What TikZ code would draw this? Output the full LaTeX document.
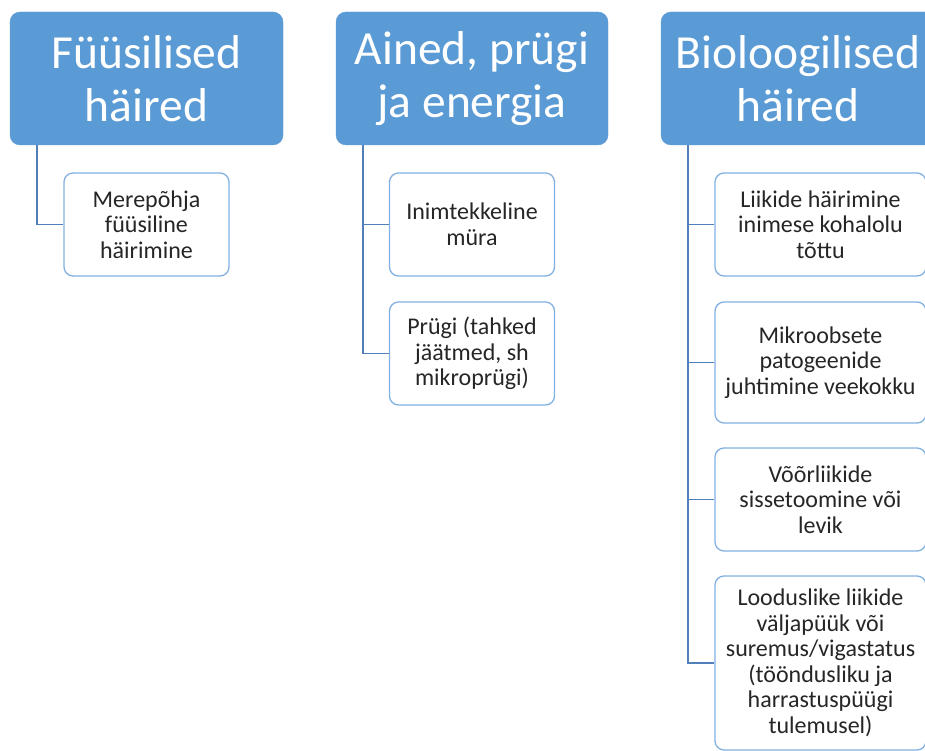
\documentclass[tikz,border=0pt]{standalone}
\usepackage{fontspec}
\setmainfont{Carlito}
\definecolor{hdrblue}{RGB}{91,155,213}
\definecolor{boxline}{RGB}{130,176,226}
\definecolor{conn}{RGB}{80,128,186}
\begin{document}
\begin{tikzpicture}[x=1pt,y=-1pt,
  header/.style={draw=hdrblue, fill=hdrblue, rounded corners=10pt, minimum height=133pt,
    text=white, align=center, font=\fontsize{47.5}{53}\selectfont, inner sep=0pt},
  item/.style={draw=boxline, line width=1.3pt, fill=white, rounded corners=9pt, minimum width=165pt,
    minimum height=103pt, align=center, font=\fontsize{24}{25.5}\selectfont, text=black!85, inner sep=0pt},
  wide/.style={item, minimum width=211pt},
  link/.style={draw=conn, line width=1.5pt}]
\useasboundingbox (0,0) rectangle (925,751);
\clip (0,0) rectangle (925,751);
% headers
\node[header, minimum width=273pt] (h1) at (146.5,78.5) {Füüsilised\\häired};
\node[header, minimum width=272pt] (h2) at (472,78.5) {Ained, prügi\\ja energia};
\node[header, minimum width=274pt] (h3) at (798,78.5) {Bioloogilised\\häired};
% children
\node[item] (a1) at (146.5,224.5) {Merepõhja\\füüsiline\\häirimine};
\node[item] (b1) at (472,224.5) {Inimtekkeline\\müra};
\node[item] (b2) at (472,353.5) {Prügi (tahked\\jäätmed, sh\\mikroprügi)};
\node[wide] (c1) at (820.5,224.5) {Liikide häirimine\\inimese kohalolu\\tõttu};
\node[wide, minimum height=121pt] (c2) at (820.5,362.5) {Mikroobsete\\patogeenide\\juhtimine veekokku};
\node[wide] (c3) at (820.5,499.5) {Võõrliikide\\sissetoomine või\\levik};
\node[wide, minimum height=174pt] (c4) at (820.5,663) {Looduslike liikide\\väljapüük või\\suremus/vigastatus\\(tööndusliku ja\\harrastuspüügi\\tulemusel)};
% connectors
\path (h1.south west) ++(27,0) coordinate (t1);
\path (h2.south west) ++(27,0) coordinate (t2);
\path (h3.south west) ++(27,0) coordinate (t3);
\draw[link] (t1) |- (a1.west);
\draw[link] (t2) |- (b1.west);
\draw[link] (t2) |- (b2.west);
\draw[link] (t3) |- (c1.west);
\draw[link] (t3) |- (c2.west);
\draw[link] (t3) |- (c3.west);
\draw[link] (t3) |- (c4.west);
\end{tikzpicture}
\end{document}
